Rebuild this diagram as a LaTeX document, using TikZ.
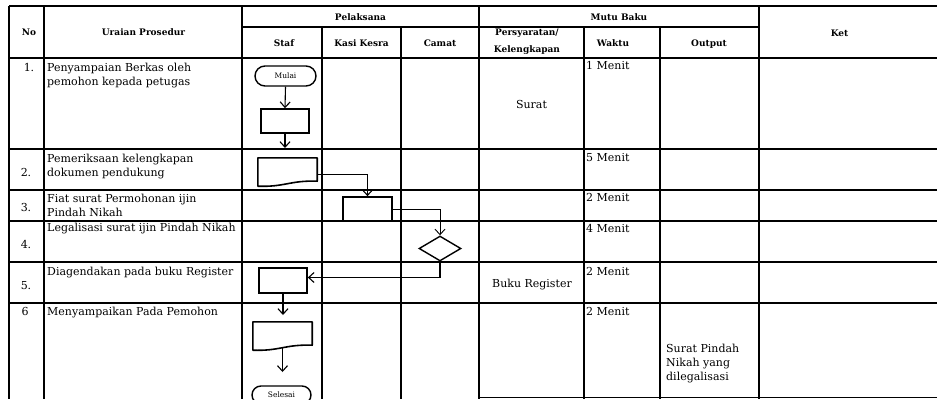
\documentclass[tikz,border=0pt]{standalone}
\usepackage{fontspec}
\setmainfont{DejaVu Serif}
\usetikzlibrary{arrows.meta,shapes.geometric,shapes.misc}
\newcommand{\drawdocshape}[1]{%
  \draw[docline] (#1.north west) -- (#1.north east) -- (#1.south east)
    .. controls +(-27,-1) and +(27,1) .. ([yshift=-5pt]#1.south west) -- cycle;}
\begin{document}
\begin{tikzpicture}[x=1pt,y=-1pt,
  grid/.style={line width=1.2pt, black},
  txt/.style={inner sep=0pt, anchor=base west, align=left, font=\fontsize{11}{13.6}\selectfont},
  numtxt/.style={inner sep=0pt, anchor=base, font=\fontsize{11}{13.6}\selectfont},
  hdr/.style={inner sep=0pt, anchor=base, align=center, font=\fontsize{9}{17}\selectfont\bfseries},
  procbox/.style={draw, line width=1.6pt, inner sep=0pt},
  docnode/.style={inner sep=0pt},
  docline/.style={line width=1.6pt, line join=round},
  termnode/.style={draw, rounded rectangle, line width=1.4pt, inner sep=0pt, font=\fontsize{7.5}{9}\selectfont},
  decnode/.style={draw, diamond, line width=1.4pt, inner sep=0pt},
  conn/.style={line width=1.1pt, -{Straight Barb[length=5.5pt,width=10pt,line width=1.1pt]}},
  thinconn/.style={line width=0.8pt, -{Straight Barb[length=5.5pt,width=10pt,line width=0.9pt]}}
]
\fill[white] (0,0) rectangle (937,399);
\useasboundingbox (0,0) rectangle (937,399);

% table grid
\draw[grid] (9,6) -- (937,6);
\draw[grid] (242,27) -- (759,27);
\draw[grid] (9,58) -- (937,58);
\foreach \yy in {149,190,221,262,303} {\draw[grid] (9,\yy) -- (937,\yy);}
\draw[grid] (479,397.5) -- (937,397.5);
\foreach \xx in {9,44,242,479,759} {\draw[grid] (\xx,6) -- (\xx,399);}
\foreach \xx in {322,401,584,660} {\draw[grid] (\xx,27) -- (\xx,399);}

% headers
\node[hdr] (hno) at (29,35) {No};
\node[hdr] (hur) at (143.5,35) {Uraian Prosedur};
\node[hdr] (hpel) at (360.5,20) {Pelaksana};
\node[hdr] (hmutu) at (619,20) {Mutu Baku};
\node[hdr] (hket) at (839.5,36) {Ket};
\node[hdr] (hstaf) at (284,46) {Staf};
\node[hdr] (hkasi) at (361.5,46) {Kasi Kesra};
\node[hdr] (hcamat) at (440,46) {Camat};
\node[hdr] (hpers) at (527,52) {Persyaratan/\\Kelengkapan};
\node[hdr] (hwaktu) at (613,46) {Waktu};
\node[hdr] (hout) at (709,46) {Output};

% numbers
\node[numtxt] (n1) at (29,71) {1.};
\node[numtxt] (n2) at (26,176) {2.};
\node[numtxt] (n3) at (26,211) {3.};
\node[numtxt] (n4) at (26,248) {4.};
\node[numtxt] (n5) at (26,289) {5.};
\node[numtxt] (n6) at (25,315.5) {6};

% procedure texts (anchor = baseline of the last line)
\node[txt] (u1) at (47,85) {Penyampaian Berkas oleh\\pemohon kepada petugas};
\node[txt] (u2) at (47,176) {Pemeriksaan kelengkapan\\dokumen pendukung};
\node[txt] (u3) at (47,216) {Fiat surat Permohonan ijin\\Pindah Nikah};
\node[txt] (u4) at (47,231) {Legalisasi surat ijin Pindah Nikah};
\node[txt] (u5) at (47,275) {Diagendakan pada buku Register};
\node[txt] (u6) at (47,315.5) {Menyampaikan Pada Pemohon};

% requirements
\node[numtxt] (p1) at (531.5,108) {Surat};
\node[txt] (p5) at (492,287) {Buku Register};

% time
\node[txt] (w1) at (586,69) {1 Menit};
\node[txt] (w2) at (586,161) {5 Menit};
\node[txt] (w3) at (586,201) {2 Menit};
\node[txt] (w4) at (586,232) {4 Menit};
\node[txt] (w5) at (586,275) {2 Menit};
\node[txt] (w6) at (586,315) {2 Menit};

% output
\node[txt] (o6) at (666,380) {Surat Pindah\\Nikah yang\\dilegalisasi};

% flow shapes
\node[termnode, minimum width=61pt, minimum height=20pt] (mulai) at (285.5,76) {Mulai};
\node[procbox, minimum width=48pt, minimum height=24pt] (r1) at (285,121) {};
\coordinate (a1) at (285,148);
\node[docnode, minimum width=59pt, minimum height=23pt] (d2) at (287.5,169.5) {};
\drawdocshape{d2}
\node[procbox, minimum width=49pt, minimum height=24pt] (r3) at (367.5,209) {};
\node[decnode, minimum width=42pt, minimum height=25pt] (dia) at (440,248.5) {};
\node[procbox, minimum width=48pt, minimum height=25pt] (r5) at (283,280.5) {};
\coordinate (a5) at (283,315);
\node[docnode, minimum width=59pt, minimum height=23pt] (d6) at (282.5,333.5) {};
\drawdocshape{d6}
\coordinate (a6) at (282.5,372);
\node[termnode, minimum width=59pt, minimum height=18pt] (selesai) at (281.5,395) {Selesai};

% connectors
\draw[conn] (mulai.south) -- (r1.north);
\draw[conn] (r1.south) -- (a1);
\draw[conn] ([yshift=-5pt]d2.east) -| (r3.north);
\draw[thinconn] (r3.east) -| (dia.north);
\draw[conn] (dia.south) |- ([yshift=3pt]r5.east);
\draw[conn] (r5.south) -- (a5);
\draw[conn] ([yshift=-3pt]d6.south) -- (a6);
\end{tikzpicture}
\end{document}
